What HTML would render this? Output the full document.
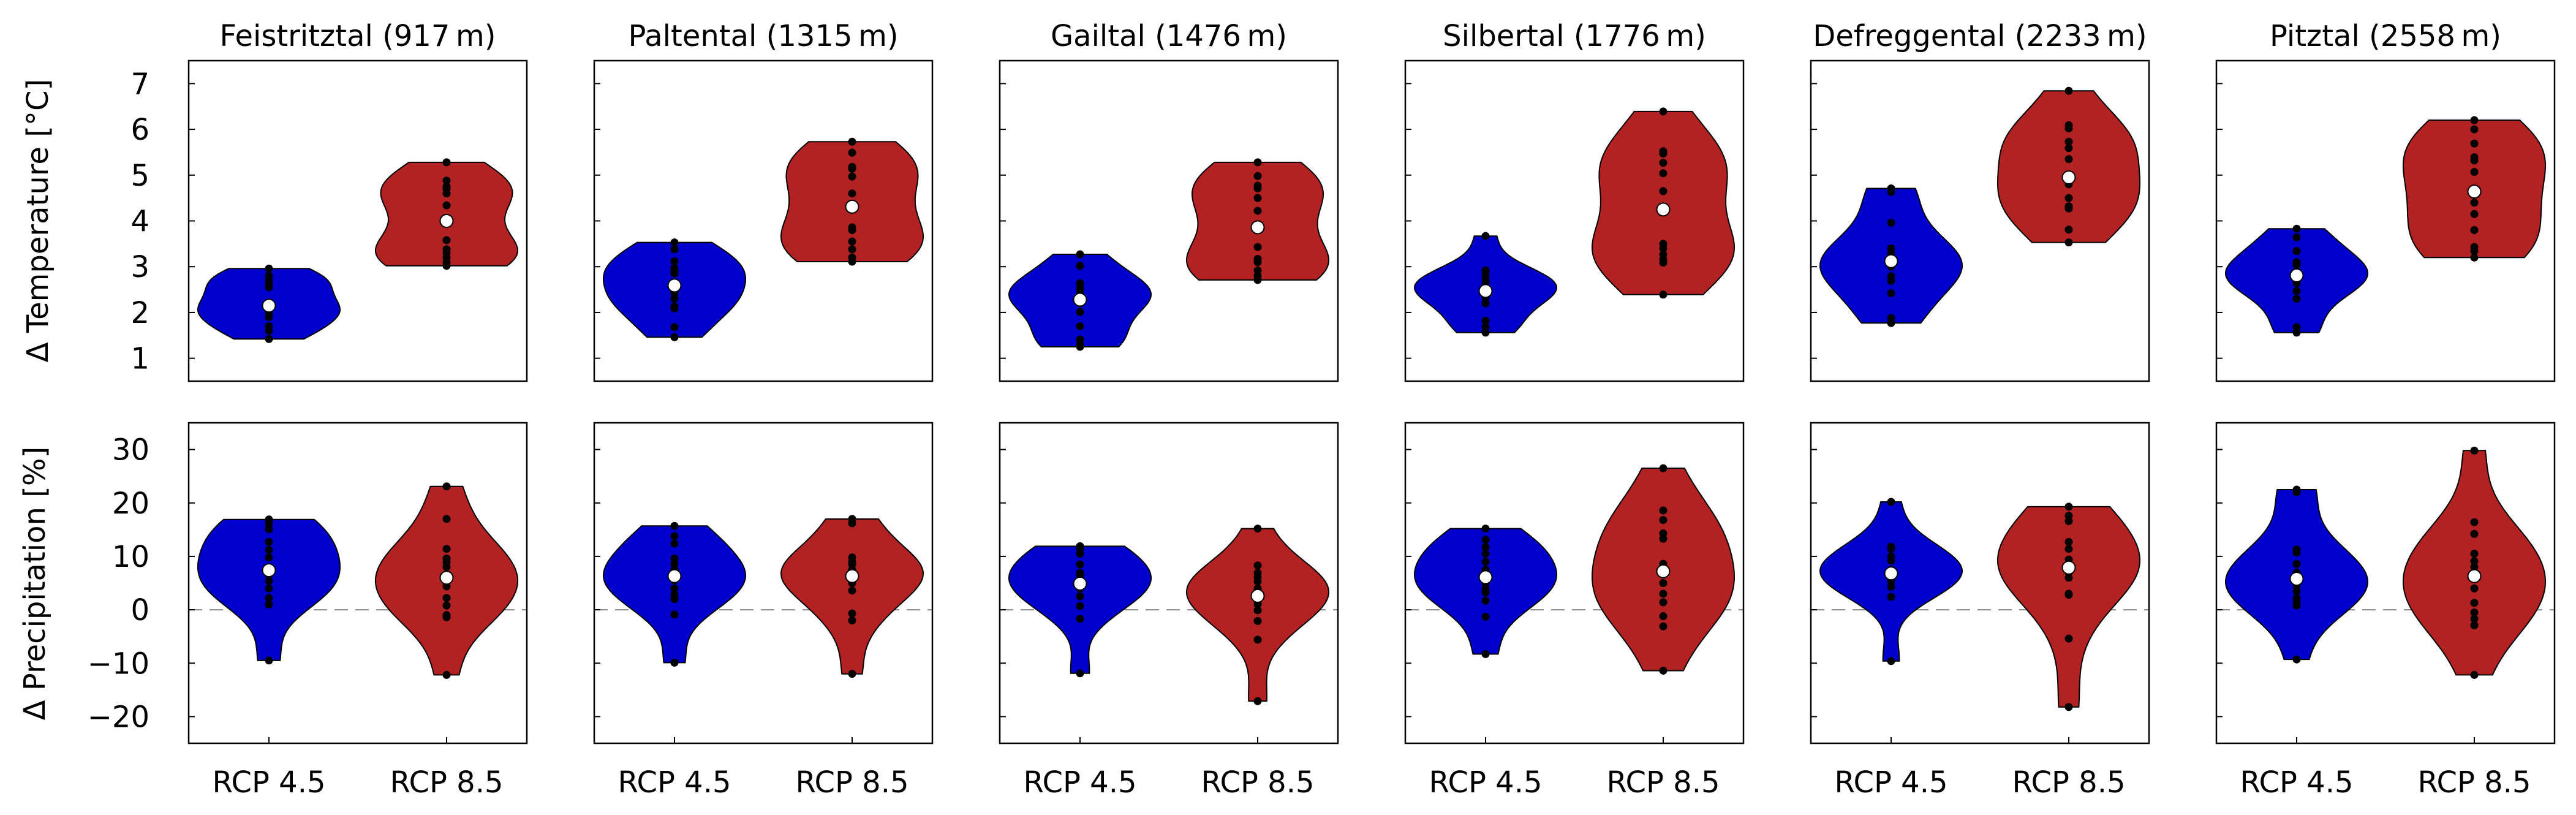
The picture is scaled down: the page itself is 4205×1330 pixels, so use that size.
<!DOCTYPE html>
<html><head><meta charset="utf-8">
<style>
html,body{margin:0;padding:0;background:#fff;}
svg{display:block;font-family:"DejaVu Sans","Liberation Sans",sans-serif;}
</style></head>
<body>
<svg id="chart" width="4205" height="1330" viewBox="0 0 4205 1330" xmlns="http://www.w3.org/2000/svg">
<rect x="0" y="0" width="4205" height="1330" fill="#fff"/>
<text x="62" y="360" font-size="48" text-anchor="middle" dominant-baseline="central" transform="rotate(-90 62 360)">Δ Temperature [°C]</text>
<text x="57" y="952" font-size="48" text-anchor="middle" dominant-baseline="central" transform="rotate(-90 57 952)">Δ Precipitation [%]</text>
</svg>
<script>
const valleys = ["Feistritztal (917\u2009m)","Paltental (1315\u2009m)","Gailtal (1476\u2009m)","Silbertal (1776\u2009m)","Defreggental (2233\u2009m)","Pitztal (2558\u2009m)"];
const scenarios = ["RCP 4.5","RCP 8.5"];
const tempTicks = [1,2,3,4,5,6,7];
const precTicks = [-20,-10,0,10,20,30];
const precTickLabels = ["\u221220","\u221210","0","10","20","30"];
const tempRcp45 = [
 [1.42,1.6,1.7,1.9,2.0,2.1,2.15,2.2,2.55,2.6,2.7,2.8,2.96],
 [1.46,1.68,2.09,2.13,2.3,2.42,2.59,2.85,2.9,2.97,3.12,3.38,3.53],
 [1.25,1.3,1.41,1.7,2.01,2.2,2.28,2.4,2.5,2.59,2.64,3.02,3.27],
 [1.56,1.68,1.82,2.2,2.33,2.4,2.47,2.55,2.66,2.75,2.85,2.92,3.67],
 [1.77,1.88,2.42,2.69,2.79,3.0,3.12,3.2,3.29,3.4,3.96,4.63,4.71],
 [1.56,1.68,2.3,2.47,2.64,2.75,2.81,2.9,3.04,3.1,3.34,3.64,3.83]
];
const tempRcp85 = [
 [3.02,3.1,3.2,3.3,3.38,3.58,4.0,4.34,4.6,4.7,4.75,4.88,5.28],
 [3.11,3.2,3.38,3.55,3.8,3.86,4.31,4.6,4.97,5.14,5.18,5.49,5.73],
 [2.71,2.8,2.92,3.1,3.17,3.43,3.86,4.22,4.5,4.71,4.77,4.98,5.28],
 [2.39,3.09,3.16,3.27,3.4,3.5,4.25,4.65,5.04,5.27,5.47,5.52,6.39],
 [3.53,3.81,4.27,4.32,4.5,4.8,4.95,5.35,5.59,5.73,6.02,6.09,6.84],
 [3.2,3.34,3.43,3.8,4.15,4.4,4.64,5.07,5.32,5.39,5.69,6.0,6.2]
];
const precRcp45 = [
 [-9.5,1,2.2,4,5.4,6.5,7.4,9.8,11.2,12.7,15.1,16.1,16.9],
 [-9.9,-0.9,2,2.8,4,5.5,6.3,7.5,8.6,9.6,12.4,13.8,15.7],
 [-11.9,-1.7,0.7,2.5,4,4.5,4.9,6.5,6.9,8.5,10.5,11.5,11.9],
 [-8.3,-1.3,1.7,3.2,3.9,5,6.1,7.5,9,10.5,11.7,13.1,15.2],
 [-9.6,2.4,4.3,5.3,5.8,6.3,6.8,7.5,9.2,10,11.4,11.8,20.2],
 [-9.3,0.8,1.5,2.2,3.5,4.5,5.8,7,8.6,10.7,11.3,22,22.5]
];
const precRcp85 = [
 [-12.2,-1.4,-1,0.8,2.2,4.4,6,8,8.9,9.6,11.4,17,23.1],
 [-12,-2,-0.7,3.6,5,6,6.3,7.5,8.5,9,9.8,16.2,17],
 [-17.1,-5.6,-2.1,-0.1,1,2,2.6,4,5.3,6.1,6.9,8.3,15.2],
 [-11.4,-3.1,-1.2,1.4,3,5,7.2,8.6,13.3,14.3,16.8,18.6,26.5],
 [-18.2,-5.4,2.8,3,6,7,7.9,9.4,11.4,12.7,16.6,17.6,19.3],
 [-12.2,-2.9,-1.7,-0.5,1.3,4,6.3,8,9.1,10.5,14.2,16.4,29.8]
];
const colors = ["#0000cd","#b22222"];

const NS="http://www.w3.org/2000/svg";
const svg=document.getElementById("chart");
const PL=308, PSTEP=662, PW=552;
const rows=[{top:99,bot:622,min:0.5,max:7.5},{top:690,bot:1213,min:-25,max:35}];
function xScale(p,x){return PL+p*PSTEP+131+(x-1)*290;}
function yScale(r,v){const R=rows[r];return R.bot-(v-R.min)/(R.max-R.min)*(R.bot-R.top);}
function mk(tag,attrs,parent){const e=document.createElementNS(NS,tag);for(const k in attrs)e.setAttribute(k,attrs[k]);(parent||svg).appendChild(e);return e;}
function median(d){const s=[...d].sort((a,b)=>a-b);const n=s.length;return n%2?s[(n-1)/2]:(s[n/2-1]+s[n/2])/2;}
function kde(d){
  const n=d.length;const m=d.reduce((a,b)=>a+b,0)/n;
  const v=d.reduce((a,b)=>a+(b-m)*(b-m),0)/(n-1);
  const bw=Math.sqrt(v)*Math.pow(n,-0.2);
  const lo=Math.min(...d),hi=Math.max(...d);const pts=[];
  for(let i=0;i<100;i++){const y=lo+(hi-lo)*i/99;let s=0;for(const x of d){const z=(y-x)/bw;s+=Math.exp(-0.5*z*z);}pts.push([y,s]);}
  const mx=Math.max(...pts.map(p=>p[1]));
  return pts.map(p=>[p[0],p[1]/mx*0.4]);
}
function drawViolin(g,p,r,xc,d,col){
  const k=kde(d);
  let path="";
  k.forEach((q,i)=>{path+=(i?"L":"M")+(xScale(p,xc+q[1])).toFixed(1)+","+yScale(r,q[0]).toFixed(1);});
  for(let i=k.length-1;i>=0;i--){path+="L"+(xScale(p,xc-k[i][1])).toFixed(1)+","+yScale(r,k[i][0]).toFixed(1);}
  path+="Z";
  const v=mk("path",{d:path,fill:col,stroke:"#000","stroke-width":2},g);
  
  
  d.forEach(val=>{
    const c=mk("circle",{cx:xScale(p,xc),cy:yScale(r,val),r:6.5,fill:"#000"},g);
    
    
  });
  const md=mk("circle",{cx:xScale(p,xc),cy:yScale(r,median(d)),r:10.5,fill:"#fff",stroke:"#000","stroke-width":2},g);
  
  
}
for(let p=0;p<6;p++){
  const cx=PL+p*PSTEP+PW/2;
  const t=mk("text",{x:cx,y:75,"font-size":48,"text-anchor":"middle"});
  t.textContent=valleys[p];
  
  
  for(let r=0;r<2;r++){
    const g=mk("g",{});
    
    
    const R=rows[r];const x0=PL+p*PSTEP;
    if(r===1){
      const zl=mk("line",{x1:x0,x2:x0+PW,y1:yScale(1,0),y2:yScale(1,0),stroke:"#888","stroke-width":2,"stroke-dasharray":"22,12"},g);
      
      
    }
    const ticks=r===0?tempTicks:precTicks;
    ticks.forEach((tv,i)=>{
      const y=yScale(r,tv);
      const tk=mk("line",{x1:x0,x2:x0+10,y1:y,y2:y,stroke:"#000","stroke-width":2},g);
      
      
      if(p===0){
        const tl=mk("text",{x:244,y:y+17,"font-size":48,"text-anchor":"end"});
        tl.textContent=r===0?String(tv):precTickLabels[i];
        
        
      }
    });
    if(r===1){
      [1,2].forEach((xv,i)=>{
        const xx=xScale(p,xv);
        const tk=mk("line",{x1:xx,x2:xx,y1:R.bot,y2:R.bot-10,stroke:"#000","stroke-width":2},g);
        
        
        const tl=mk("text",{x:xx,y:1293,"font-size":48,"text-anchor":"middle"});
        tl.textContent=scenarios[i];
        
        
      });
    }
    const d45=r===0?tempRcp45[p]:precRcp45[p];
    const d85=r===0?tempRcp85[p]:precRcp85[p];
    drawViolin(g,p,r,1,d45,colors[0]);
    drawViolin(g,p,r,2,d85,colors[1]);
    const fr=mk("rect",{x:x0,y:R.top,width:PW,height:R.bot-R.top,fill:"none",stroke:"#000","stroke-width":2.5},g);
    
    
  }
}
</script>
</body></html>
